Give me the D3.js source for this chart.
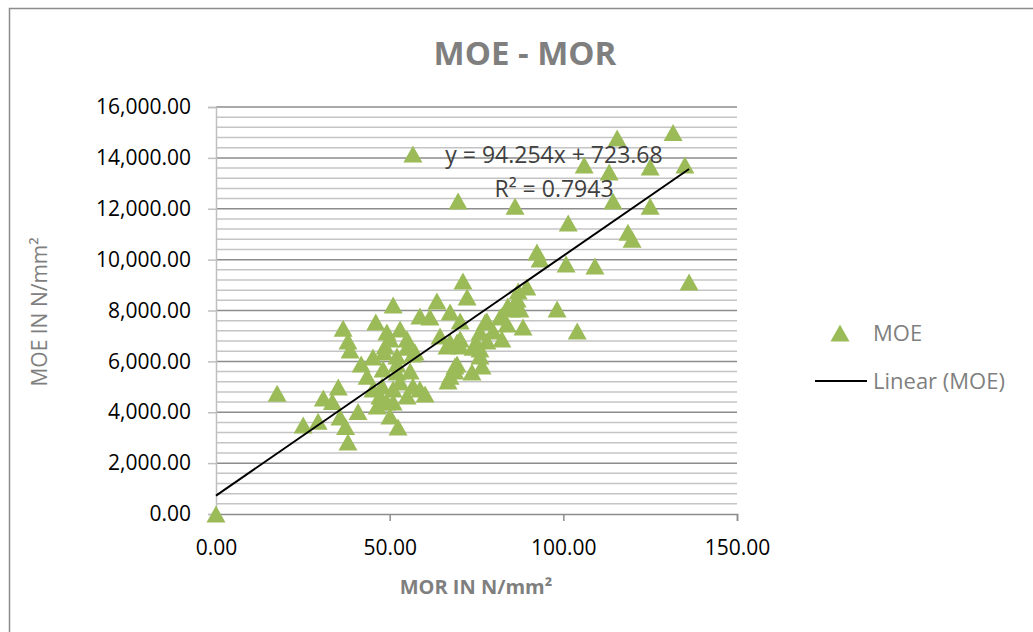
<!DOCTYPE html>
<html>
<head>
<meta charset="utf-8">
<script src="https://cdn.jsdelivr.net/npm/d3@7"></script>
<style>
  body { margin: 0; background: #fff; }
  svg { display: block; font-family: "Open Sans", sans-serif; }
</style>
</head>
<body>
<div id="chart"></div>
<script>
const width = 1033, height = 632;

// MOR (x) and MOE (y)
const mor = [0, 17.6, 25.1, 29.4, 30.9, 33.5, 35.2, 35.7, 36.6, 37.3, 38.0, 38.6, 38.0, 40.9, 41.8,
  43.5, 45.2, 46.0, 45.2, 46.4, 47.2, 47.8, 48.1, 48.7, 48.4, 49.2, 49.2, 50.1, 50.1, 51.0,
  51.0, 51.0, 52.1, 52.1, 52.1, 52.4, 53.0, 53.0, 55.0, 55.0, 55.0, 55.9, 56.7, 56.7, 56.7,
  57.3, 58.7, 58.7, 60.2, 61.6, 63.6, 64.5, 66.5, 66.8, 67.4, 67.4, 67.4, 68.8, 68.8, 69.4,
  69.4, 69.7, 70.3, 70.3, 70.3, 71.1, 72.3, 73.7, 74.0, 75.1, 76.0, 76.0, 76.0, 76.6, 77.5,
  78.0, 78.0, 79.8, 81.8, 82.3, 82.3, 83.8, 84.0, 85.2, 86.1, 86.7, 87.0, 87.5, 88.4, 89.5,
  92.4, 93.3, 98.2, 100.8, 101.4, 104.0, 106.0, 109.1, 113.2, 114.3, 115.5, 118.6, 119.8, 125.0, 125.0,
  131.6, 135.0, 136.2];
const moe = [0, 4750, 3500, 3650, 4560, 4420, 4990, 3810, 7300, 3440, 6800, 6450, 2830, 4030, 5900,
  5420, 6170, 7550, 4910, 4250, 4640, 5030, 5700, 6600, 6370, 7150, 4400, 3850, 6880, 8220,
  4910, 4400, 5900, 6210, 5580, 3420, 7270, 5190, 6880, 6560, 4640, 5620, 14150, 6290, 5030,
  6370, 7780, 4910, 4720, 7740, 8370, 7000, 6600, 5230, 7940, 6760, 5420, 5620, 5820, 5900,
  6760, 12300, 7590, 6880, 6600, 9160, 8530, 5580, 6560, 6680, 7150, 6490, 6210, 5820, 7550,
  7590, 6800, 7190, 7740, 6880, 7780, 7470, 8180, 8060, 12100, 8450, 8770, 8060, 7350, 8920,
  10300, 10020, 8060, 9830, 11440, 7190, 13720, 9750, 13440, 12300, 14780, 11080, 10800, 13640, 12100,
  15000, 13720, 9120];

const xTicks = [0, 50, 100, 150];
const slope = 94.254, intercept = 723.68, r2 = 0.7943;

const points = mor.map((d, i) => ({ x: d, y: moe[i] }));

const svg = d3.select("#chart").append("svg")
  .attr("width", width)
  .attr("height", height);

// chart border
svg.append("rect")
  .attr("x", 9.5).attr("y", 8.5)
  .attr("width", width + 20).attr("height", height + 20)
  .attr("fill", "none")
  .attr("stroke", "#8c8c8c")
  .attr("stroke-width", 1.5);

const x = d3.scaleLinear().domain([0, 150]).range([216, 737]);
const y = d3.scaleLinear().domain([0, 16000]).range([514, 107]);

// gridlines: minor every 400, major every 2000
const minor = d3.range(400, 16000, 400).filter(v => v % 2000 !== 0);
const major = d3.range(2000, 16001, 2000);
svg.append("g").selectAll("line").data(minor).join("line")
  .attr("x1", x(0)).attr("x2", x(150))
  .attr("y1", d => y(d)).attr("y2", d => y(d))
  .attr("stroke", "#c4c4c4").attr("stroke-width", 1.5);
svg.append("g").selectAll("line").data(major).join("line")
  .attr("x1", x(0)).attr("x2", x(150))
  .attr("y1", d => y(d)).attr("y2", d => y(d))
  .attr("stroke", "#8c8c8c").attr("stroke-width", 1.5);

const fmt = d3.format(",.2f");

// y axis
const yAxis = svg.append("g")
  .attr("transform", `translate(${x(0)},0)`)
  .call(d3.axisLeft(y).tickValues(d3.range(0, 16001, 2000)).tickSize(8).tickPadding(17).tickFormat(fmt));
yAxis.select(".domain").attr("stroke", "#bfbfbf").attr("stroke-width", 1.5);
yAxis.selectAll(".tick line").attr("stroke", "#bfbfbf").attr("stroke-width", 1.5);
yAxis.selectAll("text").attr("font-size", 21).attr("fill", "#000")
  .attr("font-family", "Open Sans, sans-serif");

// x axis
const xAxis = svg.append("g")
  .attr("transform", `translate(0,${y(0)})`)
  .call(d3.axisBottom(x).tickValues(xTicks).tickSize(7).tickPadding(19).tickFormat(fmt));
xAxis.select(".domain").attr("stroke", "#8c8c8c").attr("stroke-width", 1.5);
xAxis.selectAll(".tick line").attr("stroke", "#8c8c8c").attr("stroke-width", 1.5);
xAxis.selectAll("text").attr("font-size", 21).attr("fill", "#000")
  .attr("font-family", "Open Sans, sans-serif");

// markers
const tri = "M0,-8.5L9.5,8.5L-9.5,8.5Z";
svg.append("g").selectAll("path").data(points).join("path")
  .attr("d", tri)
  .attr("transform", d => `translate(${x(d.x)},${y(d.y)})`)
  .attr("fill", "#9bbb59");

// trendline over data range
const xMax = d3.max(mor);
const line = d3.line().x(d => x(d)).y(d => y(slope * d + intercept));
svg.append("path")
  .datum([0, xMax])
  .attr("d", line)
  .attr("fill", "none")
  .attr("stroke", "#000")
  .attr("stroke-width", 2);

// equation
svg.append("text")
  .attr("x", 554).attr("y", 163)
  .attr("text-anchor", "middle")
  .attr("font-size", 23).attr("fill", "#404040")
  .text(`y = ${slope}x + ${intercept}`);
svg.append("text")
  .attr("x", 554).attr("y", 197)
  .attr("text-anchor", "middle")
  .attr("font-size", 23).attr("fill", "#404040")
  .text(`R² = ${r2}`);

// title
svg.append("text")
  .attr("x", 525).attr("y", 65)
  .attr("text-anchor", "middle")
  .attr("font-size", 33).attr("font-weight", "bold").attr("fill", "#7f7f7f")
  .text("MOE - MOR");

// axis titles
svg.append("text")
  .attr("x", 476).attr("y", 594)
  .attr("text-anchor", "middle")
  .attr("font-size", 20).attr("font-weight", "bold").attr("fill", "#7f7f7f")
  .text("MOR IN N/mm²");
svg.append("text")
  .attr("transform", "translate(47,312) rotate(-90)")
  .attr("text-anchor", "middle")
  .attr("font-size", 21).attr("fill", "#7f7f7f")
  .text("MOE IN N/mm²");

// legend
const legend = svg.append("g");
legend.append("path")
  .attr("d", tri)
  .attr("transform", "translate(840,333)")
  .attr("fill", "#9bbb59");
legend.append("text")
  .attr("x", 873).attr("y", 341)
  .attr("font-size", 22).attr("fill", "#7f7f7f")
  .text("MOE");
legend.append("line")
  .attr("x1", 815).attr("x2", 867)
  .attr("y1", 381).attr("y2", 381)
  .attr("stroke", "#000").attr("stroke-width", 2);
legend.append("text")
  .attr("x", 873).attr("y", 389)
  .attr("font-size", 22).attr("fill", "#7f7f7f")
  .text("Linear (MOE)");
</script>
</body>
</html>
